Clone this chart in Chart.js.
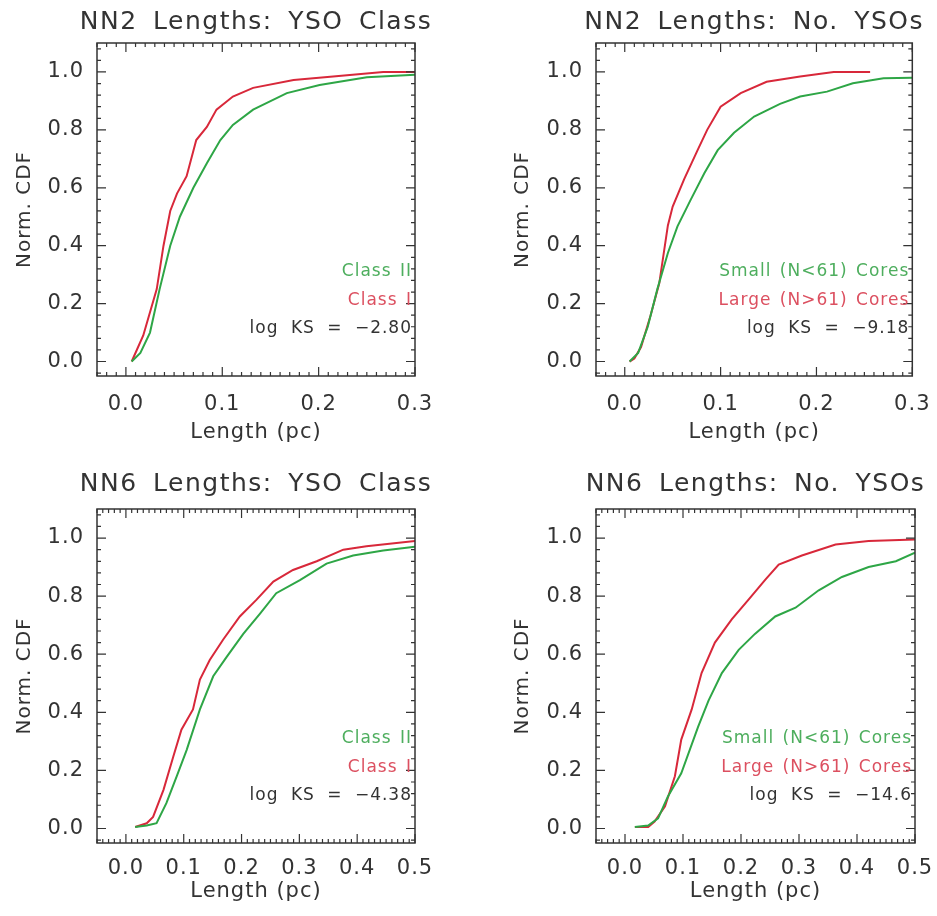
<!DOCTYPE html>
<html>
<head>
<meta charset="utf-8">
<script src="https://cdn.jsdelivr.net/npm/chart.js@4.4.1/dist/chart.umd.min.js"></script>
<style>
  html, body { margin: 0; padding: 0; background: #fff; }
  #wrap { position: relative; width: 937px; height: 916px; }
  #wrap canvas { position: absolute; }
</style>
</head>
<body>
<div id="wrap">
  <canvas id="c1" width="468" height="456" style="left:0;top:0"></canvas>
  <canvas id="c2" width="469" height="456" style="left:468px;top:0"></canvas>
  <canvas id="c3" width="468" height="460" style="left:0;top:456px"></canvas>
  <canvas id="c4" width="469" height="460" style="left:468px;top:456px"></canvas>
</div>
<script>
// tick labels
const X_TICKS_NN2 = [0.0, 0.1, 0.2, 0.3];
const X_TICKS_NN6 = [0.0, 0.1, 0.2, 0.3, 0.4, 0.5];
const Y_TICKS     = [0.0, 0.2, 0.4, 0.6, 0.8, 1.0];

// NN2 lengths, split by YSO class
const nn2ClassI_len  = [0.006, 0.018, 0.032, 0.039, 0.046, 0.053, 0.063, 0.073, 0.084, 0.094, 0.111, 0.132, 0.174, 0.215, 0.267, 0.300];
const nn2ClassI_cdf  = [0.00, 0.09, 0.25, 0.40, 0.52, 0.58, 0.64, 0.765, 0.81, 0.87, 0.915, 0.945, 0.972, 0.984, 1.00, 1.00];
const nn2ClassII_len = [0.006, 0.015, 0.025, 0.035, 0.046, 0.056, 0.070, 0.084, 0.098, 0.111, 0.132, 0.167, 0.201, 0.250, 0.300];
const nn2ClassII_cdf = [0.00, 0.03, 0.10, 0.25, 0.40, 0.50, 0.60, 0.685, 0.765, 0.817, 0.87, 0.927, 0.955, 0.982, 0.99];

// NN2 lengths, split by number of YSOs in the core
const nn2Large_len = [0.005, 0.010, 0.017, 0.027, 0.036, 0.045, 0.050, 0.062, 0.076, 0.086, 0.100, 0.121, 0.148, 0.183, 0.218, 0.256];
const nn2Large_cdf = [0.00, 0.01, 0.05, 0.16, 0.27, 0.47, 0.535, 0.63, 0.73, 0.80, 0.88, 0.927, 0.966, 0.984, 1.00, 1.00];
const nn2Small_len = [0.005, 0.014, 0.024, 0.034, 0.045, 0.055, 0.069, 0.083, 0.097, 0.114, 0.135, 0.162, 0.183, 0.211, 0.238, 0.270, 0.300];
const nn2Small_cdf = [0.00, 0.03, 0.12, 0.25, 0.375, 0.467, 0.56, 0.65, 0.73, 0.79, 0.846, 0.89, 0.915, 0.932, 0.961, 0.978, 0.98];

// NN6 lengths, split by YSO class
const nn6ClassI_len  = [0.016, 0.036, 0.047, 0.065, 0.082, 0.096, 0.116, 0.128, 0.145, 0.168, 0.197, 0.226, 0.255, 0.289, 0.330, 0.376, 0.416, 0.500];
const nn6ClassI_cdf  = [0.005, 0.018, 0.04, 0.133, 0.248, 0.34, 0.41, 0.513, 0.58, 0.65, 0.73, 0.788, 0.85, 0.89, 0.92, 0.96, 0.972, 0.99];
const nn6ClassII_len = [0.016, 0.036, 0.053, 0.070, 0.088, 0.105, 0.128, 0.151, 0.174, 0.203, 0.232, 0.260, 0.301, 0.347, 0.393, 0.445, 0.500];
const nn6ClassII_cdf = [0.005, 0.01, 0.018, 0.087, 0.18, 0.27, 0.41, 0.524, 0.59, 0.67, 0.74, 0.81, 0.855, 0.912, 0.94, 0.957, 0.97];

// NN6 lengths, split by number of YSOs in the core
const nn6Large_len = [0.017, 0.040, 0.051, 0.069, 0.086, 0.097, 0.115, 0.132, 0.155, 0.184, 0.213, 0.242, 0.265, 0.305, 0.363, 0.420, 0.500];
const nn6Large_cdf = [0.005, 0.005, 0.024, 0.076, 0.18, 0.306, 0.41, 0.535, 0.64, 0.72, 0.788, 0.857, 0.909, 0.94, 0.978, 0.99, 0.995];
const nn6Small_len = [0.017, 0.040, 0.057, 0.074, 0.097, 0.126, 0.144, 0.167, 0.196, 0.224, 0.259, 0.294, 0.334, 0.374, 0.420, 0.467, 0.500];
const nn6Small_cdf = [0.005, 0.01, 0.035, 0.11, 0.19, 0.35, 0.44, 0.535, 0.615, 0.67, 0.73, 0.76, 0.82, 0.866, 0.90, 0.92, 0.95];

const INK   = '#333333';
const RED   = '#d8283a';
const GREEN = '#2ea646';
const RED_TXT   = '#dc5060';
const GREEN_TXT = '#4eae5e';
const FONT  = "'DejaVu Sans', sans-serif";

const pts = (xs, ys) => xs.map((x, i) => ({ x, y: ys[i] }));

// frame, inward IDL-style ticks, panel title and the little legend
const panelDeco = {
  id: 'panelDeco',
  beforeDraw(chart) { chart.ctx.letterSpacing = '1px'; },
  afterDatasetsDraw(chart, args, o) {
    const { ctx, chartArea: a, scales: { x, y } } = chart;
    ctx.save();
    ctx.strokeStyle = INK;
    ctx.lineWidth = 1.5;
    ctx.strokeRect(a.left, a.top, a.right - a.left, a.bottom - a.top);

    ctx.lineWidth = 1.2;
    ctx.beginPath();
    const xMark = (v, len) => {
      const px = x.getPixelForValue(v);
      ctx.moveTo(px, a.bottom); ctx.lineTo(px, a.bottom - len);
      ctx.moveTo(px, a.top);    ctx.lineTo(px, a.top + len);
    };
    const yMark = (v, len) => {
      const py = y.getPixelForValue(v);
      ctx.moveTo(a.left, py);  ctx.lineTo(a.left + len, py);
      ctx.moveTo(a.right, py); ctx.lineTo(a.right - len, py);
    };
    for (let k = Math.ceil(x.min / o.xMinor); k * o.xMinor <= x.max + 1e-9; k++) xMark(k * o.xMinor, 4);
    for (let k = Math.ceil(y.min / o.yMinor); k * o.yMinor <= y.max + 1e-9; k++) yMark(k * o.yMinor, 4);
    o.xTicks.forEach(v => xMark(v, 9));
    Y_TICKS.forEach(v => yMark(v, 9));
    ctx.stroke();

    // title
    ctx.fillStyle = INK;
    ctx.font = '25px ' + FONT;
    ctx.letterSpacing = '1.5px';
    ctx.wordSpacing = '6px';
    ctx.textAlign = 'center';
    ctx.textBaseline = 'middle';
    ctx.fillText(o.title, (a.left + a.right) / 2, a.top - o.titleGap);

    // legend lines, right aligned inside the box
    ctx.font = '17px ' + FONT;
    ctx.textAlign = 'right';
    ctx.letterSpacing = '1px';
    o.notes.forEach(n => {
      ctx.fillStyle = n.color;
      ctx.wordSpacing = n.ws || '2px';
      ctx.fillText(n.text, a.right - 3, y.getPixelForValue(n.at));
    });
    ctx.restore();
  }
};

function makePanel(id, cfg) {
  const xTickVals = cfg.xTicks;
  return new Chart(document.getElementById(id), {
    type: 'line',
    data: {
      datasets: [
        { data: cfg.green, borderColor: GREEN, borderWidth: 2, pointRadius: 0, tension: 0 },
        { data: cfg.red,   borderColor: RED,   borderWidth: 2, pointRadius: 0, tension: 0 },
      ],
    },
    options: {
      responsive: false,
      animation: false,
      events: [],
      parsing: false,
      layout: { padding: { top: cfg.top, right: cfg.right, left: 0, bottom: 0 } },
      plugins: {
        legend: { display: false },
        tooltip: { enabled: false },
        panelDeco: {
          title: cfg.title,
          titleGap: cfg.titleGap,
          xTicks: xTickVals,
          xMinor: 0.01,
          yMinor: 0.04,
          notes: cfg.notes,
        },
      },
      scales: {
        x: {
          type: 'linear',
          min: cfg.xMin,
          max: cfg.xMax,
          afterBuildTicks: (s) => { s.ticks = xTickVals.map(v => ({ value: v })); },
          afterFit: (s) => { s.height = cfg.xHeight; },
          grid: { display: false },
          border: { display: false },
          ticks: {
            color: INK,
            font: { family: FONT, size: 21 },
            padding: cfg.xTickPad,
            maxRotation: 0,
            autoSkip: false,
            callback: (v) => v.toFixed(1),
          },
          title: {
            display: true,
            text: 'Length (pc)',
            color: INK,
            font: { family: FONT, size: 21 },
            padding: { top: 0, bottom: cfg.xTitlePad },
          },
        },
        y: {
          type: 'linear',
          min: -0.05,
          max: 1.1,
          afterBuildTicks: (s) => { s.ticks = Y_TICKS.map(v => ({ value: v })); },
          afterFit: (s) => { s.width = cfg.yWidth; },
          grid: { display: false },
          border: { display: false },
          ticks: {
            color: INK,
            font: { family: FONT, size: 21 },
            padding: 5,
            autoSkip: false,
            callback: (v) => v.toFixed(1),
          },
          title: {
            display: true,
            text: 'Norm. CDF',
            color: INK,
            font: { family: FONT, size: 20 },
            padding: { top: cfg.yTitlePad, bottom: 0 },
          },
        },
      },
    },
    plugins: [panelDeco],
  });
}

const classNotes = (ks) => [
  { text: 'Class II', color: GREEN_TXT, at: 0.31 },
  { text: 'Class I',  color: RED_TXT,   at: 0.21 },
  { text: 'log KS = \u2212' + ks, color: INK, at: 0.115, ws: '6px' },
];
const coreNotes = (ks) => [
  { text: 'Small (N<61) Cores', color: GREEN_TXT, at: 0.31 },
  { text: 'Large (N>61) Cores', color: RED_TXT,   at: 0.21 },
  { text: 'log KS = \u2212' + ks, color: INK, at: 0.115, ws: '6px' },
];

makePanel('c1', {
  title: 'NN2 Lengths: YSO Class', titleGap: 21,
  top: 43, right: 53, xHeight: 80, yWidth: 97, yTitlePad: 13, xTitlePad: 11, xTickPad: 8,
  xMin: -0.03, xMax: 0.3, xTicks: X_TICKS_NN2,
  green: pts(nn2ClassII_len, nn2ClassII_cdf),
  red: pts(nn2ClassI_len, nn2ClassI_cdf),
  notes: classNotes('2.80'),
});
makePanel('c2', {
  title: 'NN2 Lengths: No. YSOs', titleGap: 21,
  top: 43, right: 22, xHeight: 80, yWidth: 128, yTitlePad: 43, xTitlePad: 11, xTickPad: 8,
  xMin: -0.03, xMax: 0.3, xTicks: X_TICKS_NN2,
  green: pts(nn2Small_len, nn2Small_cdf),
  red: pts(nn2Large_len, nn2Large_cdf),
  notes: coreNotes('9.18'),
});
makePanel('c3', {
  title: 'NN6 Lengths: YSO Class', titleGap: 25,
  top: 53, right: 53, xHeight: 73, yWidth: 97, yTitlePad: 13, xTitlePad: 12, xTickPad: 5,
  xMin: -0.05, xMax: 0.5, xTicks: X_TICKS_NN6,
  green: pts(nn6ClassII_len, nn6ClassII_cdf),
  red: pts(nn6ClassI_len, nn6ClassI_cdf),
  notes: classNotes('4.38'),
});
makePanel('c4', {
  title: 'NN6 Lengths: No. YSOs', titleGap: 25,
  top: 53, right: 22, xHeight: 73, yWidth: 128, yTitlePad: 43, xTitlePad: 12, xTickPad: 5,
  xMin: -0.05, xMax: 0.5, xTicks: X_TICKS_NN6,
  green: pts(nn6Small_len, nn6Small_cdf),
  red: pts(nn6Large_len, nn6Large_cdf),
  notes: coreNotes('14.6'),
});
</script>
</body>
</html>
